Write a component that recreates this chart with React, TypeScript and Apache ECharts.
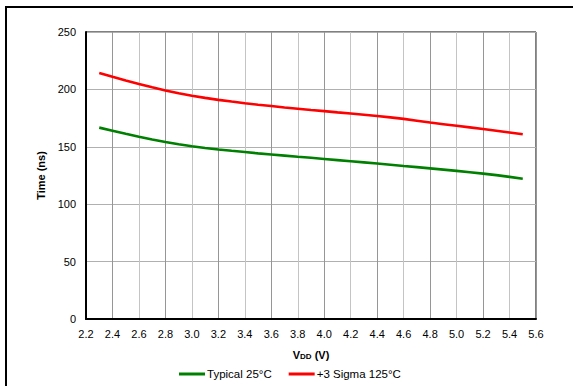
import React, { useEffect, useRef } from "react";
import * as echarts from "echarts";

const vdd = [2.3, 2.4, 2.5, 2.6, 2.7, 2.8, 2.9, 3.0, 3.1, 3.2, 3.3, 3.4, 3.5, 3.6, 3.7, 3.8, 3.9, 4.0, 4.1, 4.2, 4.3, 4.4, 4.5, 4.6, 4.7, 4.8, 4.9, 5.0, 5.1, 5.2, 5.3, 5.4, 5.5];
const typical25 = [166.7, 164.0, 161.3, 158.8, 156.4, 154.2, 152.2, 150.5, 149.0, 147.7, 146.5, 145.4, 144.3, 143.3, 142.3, 141.3, 140.4, 139.4, 138.4, 137.4, 136.4, 135.4, 134.4, 133.3, 132.3, 131.2, 130.1, 129.0, 127.8, 126.6, 125.3, 123.8, 122.2];
const sigma125 = [214.3, 211.0, 207.8, 204.7, 201.8, 199.1, 196.6, 194.5, 192.6, 190.9, 189.4, 188.0, 186.7, 185.5, 184.3, 183.2, 182.1, 181.1, 180.0, 179.0, 177.9, 176.8, 175.6, 174.3, 172.7, 171.1, 169.7, 168.3, 166.9, 165.5, 164.0, 162.5, 161.0];
const seriesNames = ["Typical 25°C", "+3 Sigma 125°C"];

const FONT = "Liberation Sans, Arial, sans-serif";

export default function App() {
  const ref = useRef<HTMLDivElement>(null);
  useEffect(() => {
    if (!ref.current) return;
    const chart = echarts.init(ref.current, undefined, { renderer: "svg" });
    chart.setOption({
      animation: false,
      backgroundColor: "#ffffff",
      textStyle: { fontFamily: FONT },
      grid: {
        left: 86,
        right: 37,
        top: 32,
        bottom: 67,
        show: true,
        borderColor: "#000",
        borderWidth: 1,
        backgroundColor: "transparent",
      },
      legend: {
        left: 179,
        top: 368,
        padding: 0,
        icon: "rect",
        itemWidth: 26,
        itemHeight: 3,
        itemGap: 17,
        textStyle: { fontFamily: FONT, fontSize: 11.5, color: "#000", padding: [0, 0, 0, -3] },
        data: seriesNames,
      },
      xAxis: {
        type: "value",
        min: 2.2,
        max: 5.6,
        interval: 0.2,
        name: "V{sub|DD} (V)",
        nameLocation: "middle",
        nameGap: 30,
        nameTextStyle: {
          fontFamily: FONT,
          fontSize: 11,
          fontWeight: "bold",
          color: "#000",
          rich: {
            sub: { fontFamily: FONT, fontSize: 8, fontWeight: "bold", color: "#000", verticalAlign: "bottom" },
          },
        },
        axisLine: { show: true, lineStyle: { color: "#000", width: 2 } },
        axisTick: { show: false },
        axisLabel: {
          fontFamily: FONT,
          fontSize: 11,
          color: "#000",
          margin: 9,
          formatter: (v: number) => v.toFixed(1),
        },
        splitLine: { show: true, lineStyle: { color: ["#c4c4c4", "#969696"], width: 1 } },
      },
      yAxis: {
        type: "value",
        min: 0,
        max: 250,
        interval: 50,
        name: "Time (ns)",
        nameLocation: "middle",
        nameGap: 36,
        nameTextStyle: { fontFamily: FONT, fontSize: 11, fontWeight: "bold", color: "#000" },
        axisLine: { show: true, lineStyle: { color: "#000", width: 2 } },
        axisTick: { show: false },
        axisLabel: { fontFamily: FONT, fontSize: 11, color: "#000", margin: 10 },
        splitLine: { show: true, lineStyle: { color: "#b0b0b0", width: 1 } },
      },
      series: [
        {
          name: seriesNames[0],
          type: "line",
          data: vdd.map((x, i) => [x, typical25[i]]),
          showSymbol: false,
          smooth: false,
          lineStyle: { color: "#008000", width: 2.6 },
          itemStyle: { color: "#008000" },
        },
        {
          name: seriesNames[1],
          type: "line",
          data: vdd.map((x, i) => [x, sigma125[i]]),
          showSymbol: false,
          smooth: false,
          lineStyle: { color: "#ff0000", width: 2.6 },
          itemStyle: { color: "#ff0000" },
        },
      ],
      graphic: [
        { type: "line", shape: { x1: 5, y1: 7, x2: 573, y2: 7 }, style: { stroke: "#000", lineWidth: 2 } },
        { type: "line", shape: { x1: 6, y1: 6, x2: 6, y2: 386 }, style: { stroke: "#000", lineWidth: 2 } },
      ],
    });
    return () => chart.dispose();
  }, []);
  return <div ref={ref} style={{ position: "fixed", left: 0, top: 0, width: 573, height: 386 }} />;
}
